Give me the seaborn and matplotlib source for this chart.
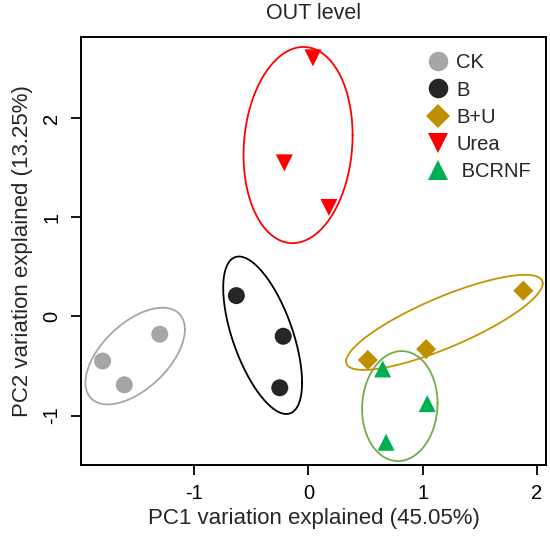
import numpy as np
import pandas as pd
import seaborn as sns
import matplotlib.pyplot as plt

# PCA scores
groups = ['CK', 'CK', 'CK', 'B', 'B', 'B', 'B+U', 'B+U', 'B+U',
          'Urea', 'Urea', 'Urea', 'BCRNF', 'BCRNF', 'BCRNF']
pc1 = [-1.30, -1.80, -1.61, -0.63, -0.22, -0.25, 1.88, 1.03, 0.52,
       0.04, -0.21, 0.18, 0.65, 1.04, 0.68]
pc2 = [-0.18, -0.45, -0.69, 0.21, -0.20, -0.72, 0.26, -0.33, -0.44,
       2.61, 1.55, 1.10, -0.53, -0.88, -1.27]

# group ellipses: centre, half-extents and correlation (data units)
ell_group = ['CK', 'B', 'B+U', 'Urea', 'BCRNF']
ell_cx = [-1.515, -0.40, 1.19, -0.09, 0.80]
ell_cy = [-0.40, -0.19, -0.06, 1.73, -0.905]
ell_sx = [0.435, 0.345, 0.86, 0.477, 0.33]
ell_sy = [0.488, 0.795, 0.48, 0.99, 0.555]
ell_rho = [0.55, -0.6, 0.82, 0.10, 0.05]

order = ['CK', 'B', 'B+U', 'Urea', 'BCRNF']
labels = ['CK', 'B', 'B+U', 'Urea', ' BCRNF']
colors = {'CK': '#A6A6A6', 'B': '#262626', 'B+U': '#BF8F00',
          'Urea': '#FF0000', 'BCRNF': '#00B050'}
ell_colors = {'CK': '#A6A6A6', 'B': '#000000', 'B+U': '#C59400',
              'Urea': '#FF0000', 'BCRNF': '#70AD47'}
markers = {'CK': 'o', 'B': 'o', 'B+U': 'D', 'Urea': 'v', 'BCRNF': '^'}
msizes = {'CK': 150, 'B': 150, 'B+U': 105, 'Urea': 150, 'BCRNF': 150}

df = pd.DataFrame({'group': groups, 'PC1': pc1, 'PC2': pc2})

sns.set_style('ticks')
plt.rcParams['font.family'] = ['Liberation Sans', 'DejaVu Sans']
plt.rcParams['axes.unicode_minus'] = False

fig = plt.figure(figsize=(5.5, 5.37), dpi=100)
ax = fig.add_axes([0.147, 0.134, 0.846, 0.797])

t = np.linspace(0, 2 * np.pi, 300)
for g, cx, cy, sx, sy, r in zip(ell_group, ell_cx, ell_cy, ell_sx, ell_sy, ell_rho):
    S = np.array([[sx**2, r * sx * sy], [r * sx * sy, sy**2]])
    L = np.linalg.cholesky(S)
    pts = L @ np.vstack([np.cos(t), np.sin(t)])
    ax.plot(cx + pts[0], cy + pts[1], color=ell_colors[g], lw=1.3, zorder=1)

sns.scatterplot(data=df, x='PC1', y='PC2', hue='group', style='group',
                size='group', hue_order=order, style_order=order,
                size_order=order, palette=colors, markers=markers,
                sizes=msizes, linewidth=0, ax=ax, zorder=3)

handles, _ = ax.get_legend_handles_labels()
ax.legend(handles[-5:], labels, loc='upper right', frameon=False,
          fontsize=14.5, handlelength=1.2, handletextpad=0.3,
          labelspacing=0.4, markerscale=1.15,
          bbox_to_anchor=(1.006, 1.004))

ax.set_xlim(-1.99, 2.08)
ax.set_ylim(-1.50, 2.82)
ax.set_xticks([-1, 0, 1, 2])
ax.set_yticks([-1, 0, 1, 2])
ax.set_yticklabels(['-1', '0', '1', '2'], rotation=90, va='center')
ax.tick_params(direction='out', length=7, width=1.3, labelsize=14.5,
               color='black', labelcolor='black', pad=7)
for sp in ax.spines.values():
    sp.set_visible(True)
    sp.set_linewidth(1.4)
    sp.set_color('black')

ax.set_xlabel('PC1 variation explained (45.05%)', fontsize=16, labelpad=3)
ax.set_ylabel('PC2 variation explained (13.25%)', fontsize=16, labelpad=7)
ax.set_title('OUT level', fontsize=15.5, pad=13)

fig.savefig('out.png', dpi=100)
